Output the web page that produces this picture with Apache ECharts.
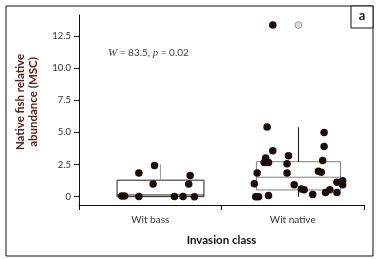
<!DOCTYPE html>
<html>
<head>
<meta charset="utf-8">
<script src="https://cdn.jsdelivr.net/npm/echarts@6/dist/echarts.min.js"></script>
<style>
  html, body { margin: 0; padding: 0; background: #fff; }
  #chart { width: 380px; height: 259px; }
</style>
</head>
<body>
<div id="chart"></div>
<script>
const categories = ['Wit bass', 'Wit native']
const yTicks = [0, 2.5, 5, 7.5, 10, 12.5]

// box stats per class: [min, q1, median, q3, max]
const boxStats = [
  [0, 0, 0.13, 1.28, 2.52],
  [0, 0.52, 1.51, 2.72, 5.4]
]
const outliers = [[], [13.35]]

// jittered points: [x (class index + jitter), value]
const bassPoints = [
  [-0.2, 0.05], [-0.18, 0.05], [-0.08, 0.02], [-0.08, 1.84], [0.03, 2.43],
  [0.02, 0.99], [0.17, 0.02], [0.23, 0.02], [0.31, 0], [0.28, 1.65], [0.27, 0.99]
]
const nativePoints = [
  [0.82, 5.41], [0.86, 3.57], [0.81, 3.0], [0.8, 2.66], [0.83, 2.66],
  [0.97, 3.18], [0.96, 2.56], [0.96, 1.84], [0.75, 1.84], [0.73, 1.01],
  [1.01, 0.93], [0.74, 0], [0.76, 0], [0.83, 0.08], [1.22, 4.99],
  [1.22, 3.9], [1.21, 2.82], [1.18, 1.97], [1.2, 1.89], [1.31, 1.11],
  [1.35, 1.24], [1.35, 0.93], [1.06, 0.6], [1.08, 0.54], [1.14, 0.16],
  [1.23, 0.33], [1.26, 0.54], [1.31, 0.33], [0.86, 13.35]
]

const font = 'Lato, "Open Sans", sans-serif'
const dotColor = '#1c0d0b'
const boxShift = [0.072, 0.04]
const boxWidth = [0.61, 0.59]
const boxColor = ['#222', '#808080']
const whiskerColor = ['#999', '#111']

const chart = echarts.init(document.getElementById('chart'))

function renderBox(params, api) {
  const i = params.dataIndex
  const cx = api.value(0) + boxShift[i]
  const left = api.coord([cx - boxWidth[i] / 2, 0])[0]
  const right = api.coord([cx + boxWidth[i] / 2, 0])[0]
  const mid = api.coord([cx, 0])[0]
  const y = k => api.coord([cx, api.value(k)])[1]
  const children = [
    { type: 'rect', shape: { x: left, y: y(4), width: right - left, height: y(2) - y(4) },
      style: { fill: 'none', stroke: boxColor[i], lineWidth: 1 } },
    { type: 'line', shape: { x1: left, y1: y(3), x2: right, y2: y(3) },
      style: { stroke: boxColor[i], lineWidth: 1 } },
    { type: 'line', shape: { x1: mid, y1: y(4), x2: mid, y2: y(5) },
      style: { stroke: whiskerColor[i], lineWidth: 1 } },
    { type: 'line', shape: { x1: mid, y1: y(1), x2: mid, y2: y(2) },
      style: { stroke: whiskerColor[i], lineWidth: 1 } }
  ]
  outliers[i].forEach(v => {
    const p = api.coord([cx, v])
    children.push({ type: 'circle', shape: { cx: p[0], cy: p[1], r: 3.4 },
      style: { fill: '#ddd', stroke: '#888', lineWidth: 0.8 } })
  })
  return { type: 'group', children: children }
}

chart.setOption({
  backgroundColor: '#fff',
  animation: false,
  grid: { left: 79, right: 16, top: 15, bottom: 54 },
  xAxis: [{
    type: 'category',
    data: categories,
    boundaryGap: true,
    axisLine: { onZero: false, lineStyle: { color: '#111', width: 1 } },
    axisTick: { show: true, length: 5, lineStyle: { color: '#111' } },
    axisLabel: { margin: 10, color: '#333', fontSize: 10, fontFamily: font },
    name: 'Invasion class',
    nameLocation: 'middle',
    nameGap: 29,
    nameTextStyle: { color: '#111', fontSize: 11.5, fontWeight: 'bold', fontFamily: font }
  }, {
    type: 'value',
    min: -0.5,
    max: 1.5,
    show: false
  }],
  yAxis: {
    type: 'value',
    min: -0.65,
    max: 14.13,
    axisLine: { show: true, onZero: false, lineStyle: { color: '#111', width: 1 } },
    axisTick: { show: true, length: 5, customValues: yTicks, lineStyle: { color: '#111' } },
    axisLabel: {
      customValues: yTicks,
      margin: 8,
      color: '#333',
      fontSize: 9.5,
      fontFamily: font,
      formatter: v => (v === 0 ? '0' : v.toFixed(1))
    },
    splitLine: { show: false }
  },
  graphic: [
    { type: 'rect', shape: { x: 6, y: 6, width: 367, height: 250 },
      style: { fill: 'none', stroke: '#111', lineWidth: 1 }, silent: true },
    { type: 'rect', shape: { x: 351, y: 6, width: 22, height: 22 },
      style: { fill: '#fff', stroke: '#111', lineWidth: 1 }, silent: true },
    { type: 'text', x: 362, y: 16,
      style: { text: 'a', fill: '#1a1a2e', font: 'bold 13px ' + font, align: 'center', verticalAlign: 'middle' } },
    { type: 'text', x: 27, y: 102, rotation: Math.PI / 2,
      style: { text: 'Native fish relative\nabundance (MSC)', fill: '#57200f',
        font: 'bold 11.5px ' + font, align: 'center', verticalAlign: 'middle', lineHeight: 12.5 } },
    { type: 'text', x: 108, y: 53,
      style: {
        text: '{i|W} = 83.5, {i|p} = 0.02',
        verticalAlign: 'middle',
        fill: '#444',
        font: '10px ' + font,
        rich: { i: { fontFamily: '"Liberation Serif", serif', fontStyle: 'italic', fontSize: 11, fill: '#444' } }
      } }
  ],
  series: [{
    name: 'box',
    type: 'custom',
    xAxisIndex: 1,
    renderItem: renderBox,
    encode: { x: 0, y: [1, 2, 3, 4, 5] },
    data: boxStats.map((s, i) => [i].concat(s)),
    z: 1
  }, {
    name: 'Wit bass',
    type: 'scatter',
    xAxisIndex: 1,
    symbolSize: 7.5,
    itemStyle: { color: dotColor, opacity: 1 },
    data: bassPoints,
    z: 2
  }, {
    name: 'Wit native',
    type: 'scatter',
    xAxisIndex: 1,
    symbolSize: 7.5,
    itemStyle: { color: dotColor, opacity: 1 },
    data: nativePoints,
    z: 2
  }]
})
</script>
</body>
</html>
